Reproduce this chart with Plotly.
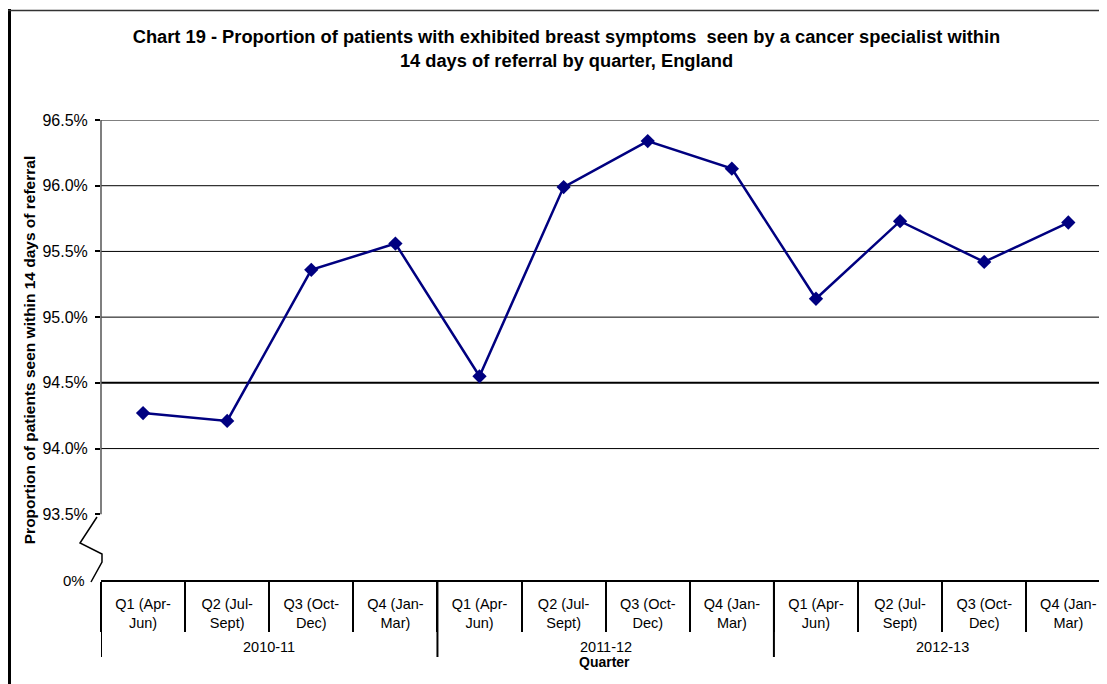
import plotly.graph_objects as go

years = ["2010-11"] * 4 + ["2011-12"] * 4 + ["2012-13"] * 4
quarters = ["Q1 (Apr-<br>Jun)", "Q2 (Jul-<br>Sept)", "Q3 (Oct-<br>Dec)", "Q4 (Jan-<br>Mar)"] * 3
values = [94.27, 94.21, 95.36, 95.56, 94.55, 95.99, 96.34, 96.13, 95.14, 95.73, 95.42, 95.72]

y_tickvals = [93.5, 94.0, 94.5, 95.0, 95.5, 96.0, 96.5]
y_ticktext = ["93.5%", "94.0%", "94.5%", "95.0%", "95.5%", "96.0%", "96.5%"]
grid_vals = [94.0, 94.5, 95.0, 95.5, 96.0]
y_min, y_max = 93.0, 96.5

# the page adds an 8px body margin; lay the figure out so page pixels match
OFF = 8
W, H = 1107 - OFF, 684 - OFF
ML, MR, MT = 101 - OFF, 0, 120 - OFF
MB = H - (580 - OFF)
PW, PH = W - ML - MR, H - MT - MB
FONT = "Liberation Sans, Arial, sans-serif"
NAVY = "#000080"

xpos = list(range(len(quarters)))
boundaries = [i - 0.5 for i in xpos] + [xpos[-1] + 0.5]

# year groups (derived from the years list)
groups = []
for i, yr in enumerate(years):
    if not groups or groups[-1][0] != yr:
        groups.append([yr, i, i])
    else:
        groups[-1][2] = i

fig = go.Figure()
fig.add_trace(go.Scatter(
    x=xpos, y=values, mode="lines+markers",
    line=dict(color=NAVY, width=2.5),
    marker=dict(symbol="diamond", size=11, color=NAVY),
    showlegend=False, hoverinfo="y",
))

def px_x(p):  # page pixel -> paper x
    return (p - OFF - ML) / PW

def px_y(p):  # page pixel -> paper y
    return 1 - (p - OFF - MT) / PH

shapes = []
for g in grid_vals:
    shapes.append(dict(type="line", xref="paper", yref="y", x0=0, x1=1, y0=g, y1=g,
                       line=dict(color="black", width=2 if g == 94.5 else 1), layer="below"))
# top border of plot and y axis line (stops at broken axis)
shapes.append(dict(type="line", xref="paper", yref="y", x0=0, x1=1, y0=y_max, y1=y_max,
                   line=dict(color="#808080", width=2)))
shapes.append(dict(type="line", xref="paper", yref="y", x0=0, x1=0, y0=y_tickvals[0], y1=y_max,
                   line=dict(color="#555555", width=1.5)))
# axis break zigzag
zz = [(97, 517), (80, 543), (102, 554), (102, 562), (91, 582)]
path = "M " + " L ".join(f"{px_x(a):.5f},{px_y(b):.5f}" for a, b in zz)
shapes.append(dict(type="path", xref="paper", yref="paper", path=path,
                   line=dict(color="black", width=1.5)))
# year group dividers
for yr, s, e in groups:
    shapes.append(dict(type="line", xref="x", yref="paper", x0=s - 0.5, x1=s - 0.5,
                       y0=px_y(580), y1=px_y(657), line=dict(color="black", width=2)))
# outer frame
shapes.append(dict(type="line", xref="paper", yref="paper", x0=px_x(9.5), x1=px_x(9.5),
                   y0=px_y(9), y1=px_y(700), line=dict(color="black", width=3)))
shapes.append(dict(type="line", xref="paper", yref="paper", x0=px_x(8), x1=px_x(1110),
                   y0=px_y(10.5), y1=px_y(10.5), line=dict(color="#333333", width=1.5)))

annotations = [dict(text="0%", xref="paper", yref="y", x=px_x(87), y=y_min,
                    xanchor="right", yanchor="middle", showarrow=False,
                    font=dict(size=15, color="black"))]
for yr, s, e in groups:
    annotations.append(dict(text=yr, xref="x", yref="paper", x=(s + e) / 2, y=px_y(647),
                            xanchor="center", yanchor="middle", showarrow=False,
                            font=dict(size=14.5, color="black")))
annotations.append(dict(text="<b>Quarter</b>", xref="paper", yref="paper", x=0.5, y=px_y(662),
                        xanchor="center", yanchor="middle", showarrow=False,
                        font=dict(size=14, color="black")))

fig.update_layout(
    width=W, height=H,
    margin=dict(l=ML, r=MR, t=MT, b=MB),
    paper_bgcolor="white", plot_bgcolor="white",
    font=dict(family=FONT, size=14, color="black"),
    title=dict(
        text="<b>Chart 19 - Proportion of patients with exhibited breast symptoms  seen by a cancer specialist within<br>14 days of referral by quarter, England</b>",
        x=(566.5 - OFF) / W, xanchor="center", y=0.948, yanchor="middle",
        font=dict(family=FONT, size=18.3, color="black"),
    ),
    xaxis=dict(
        range=[-0.5, 11.46], automargin=False,
        tickvals=xpos, ticktext=quarters, ticks="",
        showline=True, linecolor="black", linewidth=2,
        minor=dict(tickvals=boundaries, ticks="outside", ticklen=50, tickwidth=2, tickcolor="black"),
        showgrid=False, zeroline=False, tickfont=dict(size=14.5),
        ticklabelstandoff=10,
    ),
    yaxis=dict(
        range=[y_min, y_max], tickvals=y_tickvals, ticktext=y_ticktext, automargin=False,
        showgrid=False, zeroline=False, showline=False,
        ticks="outside", ticklen=5, tickwidth=2, tickcolor="black",
        tickfont=dict(size=16), ticklabelstandoff=4,
        title=dict(text="<b>Proportion of patients seen within 14 days of referral</b>",
                   font=dict(size=15.5), standoff=2),
    ),
    shapes=shapes,
    annotations=annotations,
)

fig.write_html("out.html")
